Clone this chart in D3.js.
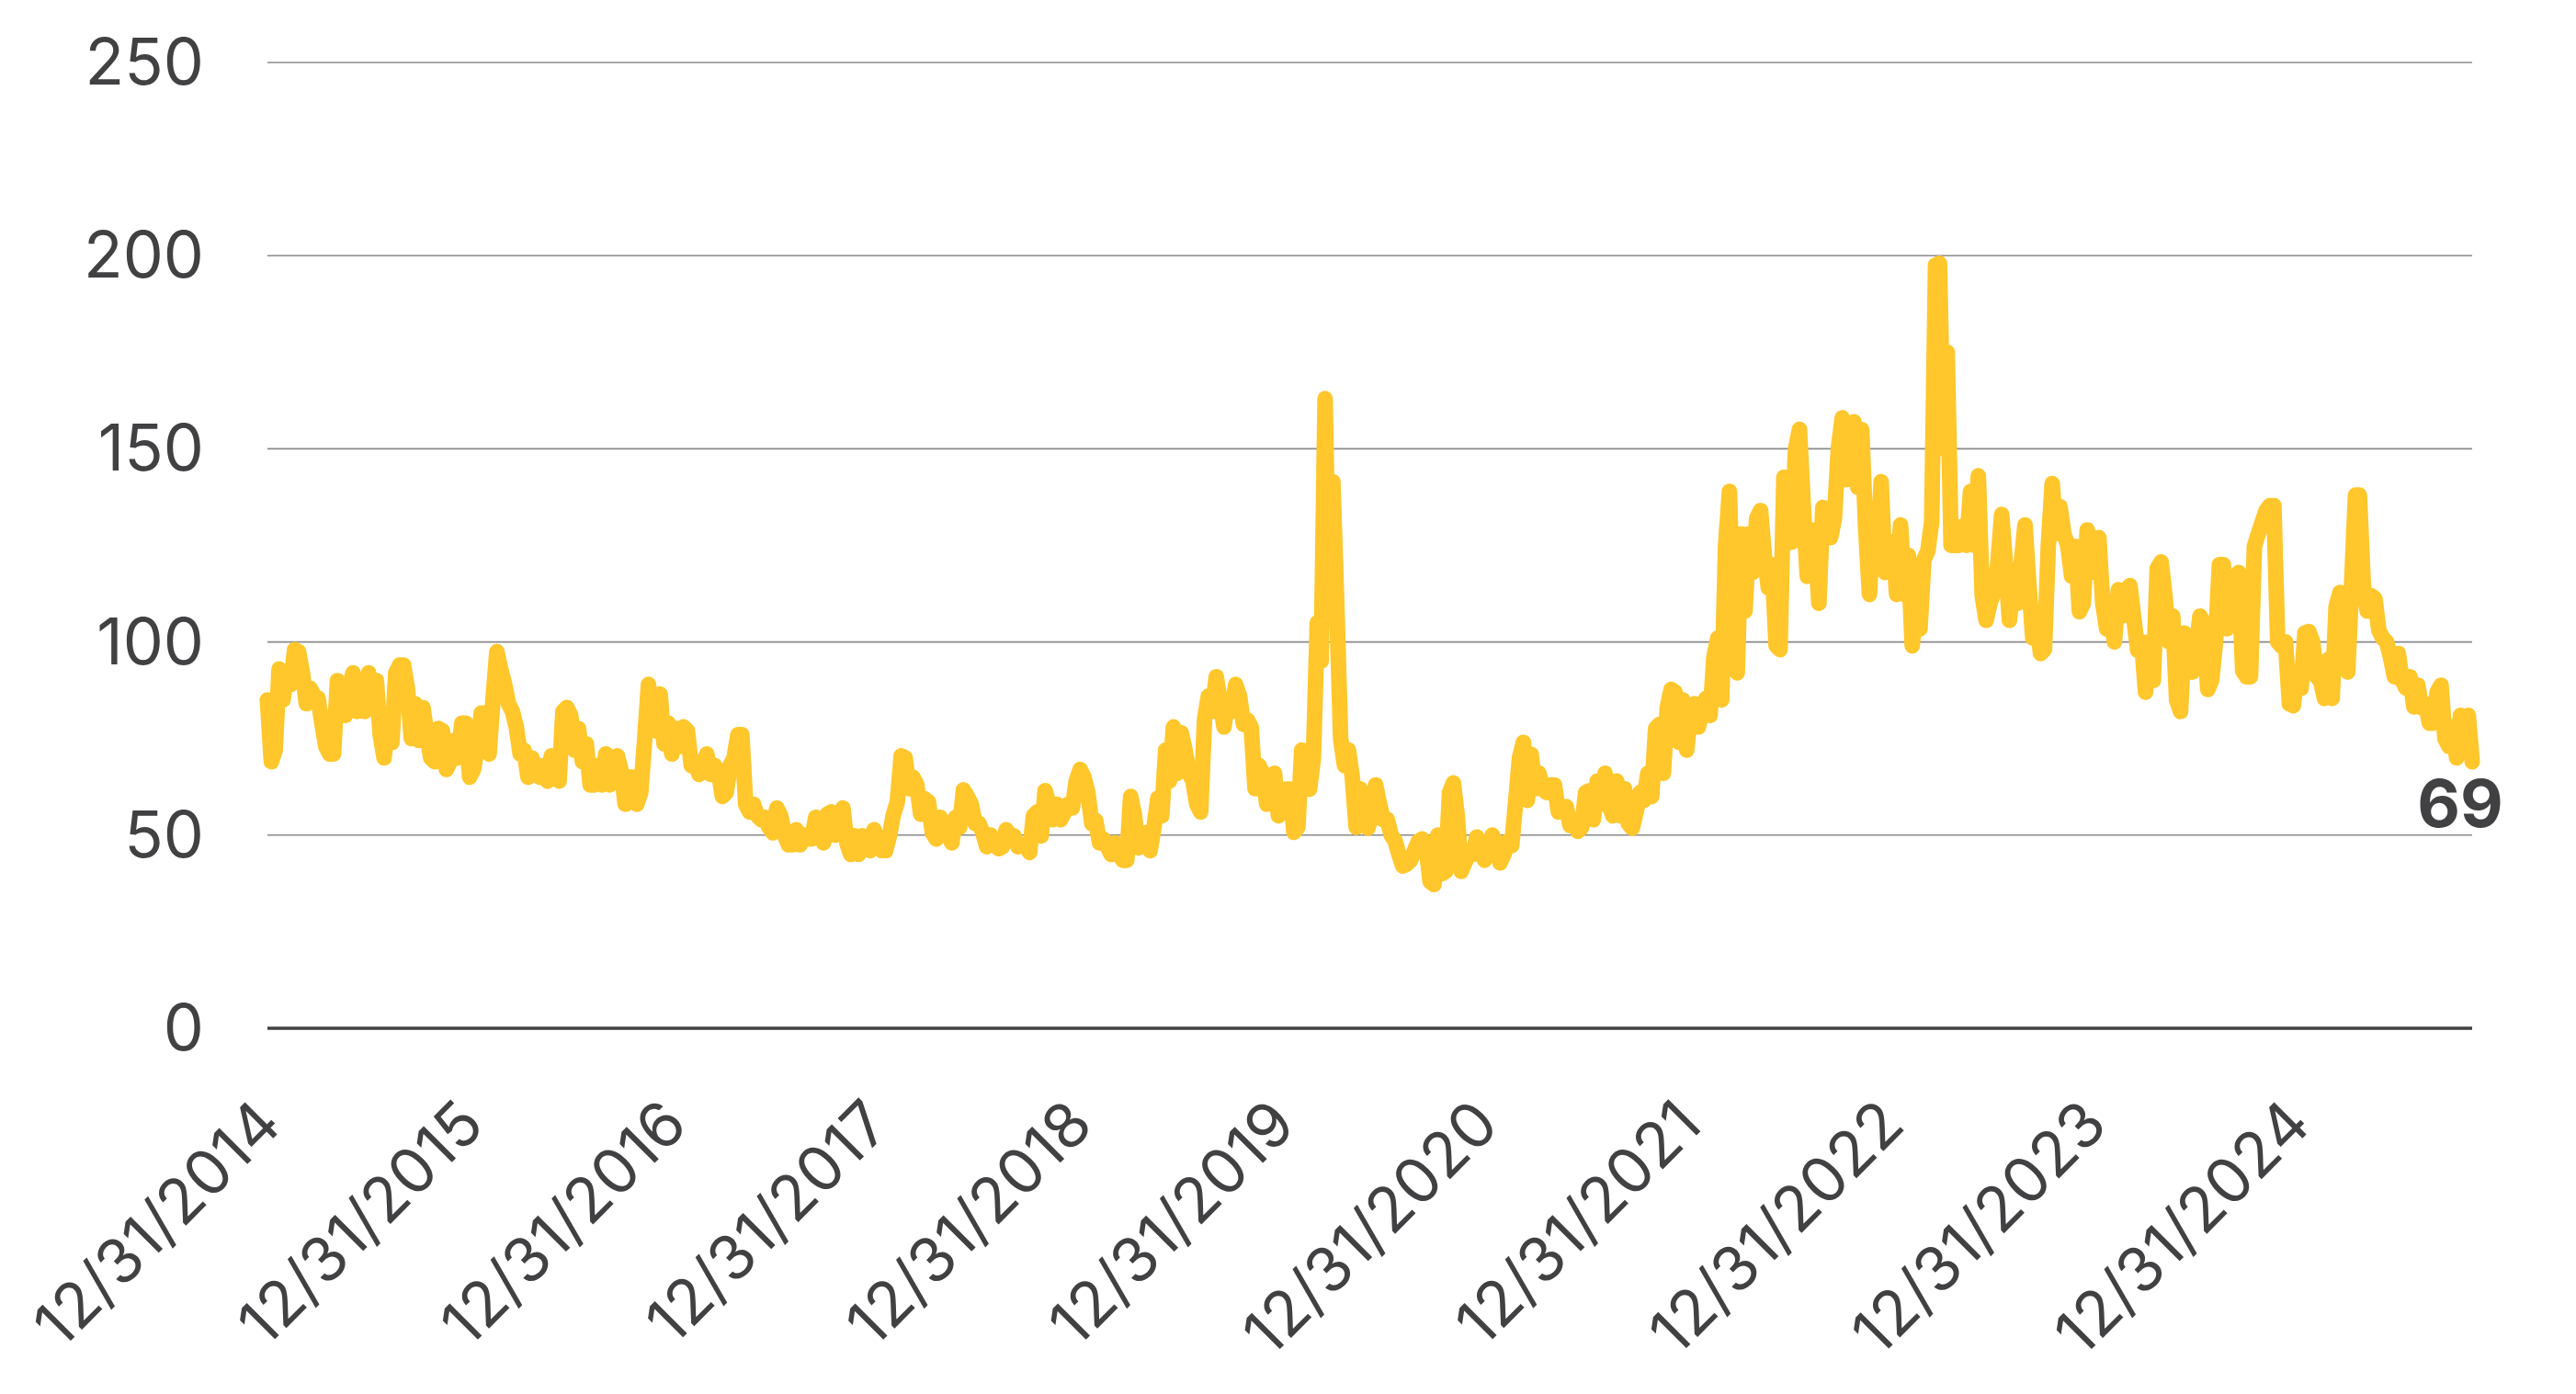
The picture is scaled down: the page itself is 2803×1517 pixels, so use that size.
<!DOCTYPE html>
<html>
<head>
<meta charset="utf-8">
<script src="https://cdn.jsdelivr.net/npm/d3@7"></script>
<style>
  html, body { margin: 0; padding: 0; background: #fff; }
  svg { display: block; }
</style>
</head>
<body>
<svg id="chart"></svg>
<script>
// Weekly readings, first point is 12/31/2014, one value every 7 days
const startDate = "2014-12-31";
const v2015 = [85, 69, 72, 93, 85, 92, 89, 98, 97.5, 92, 84, 88, 86, 85.5, 79, 73, 71, 71, 90, 86, 81, 88, 92, 82, 90, 82, 92, 85, 90, 76, 70, 79, 74, 92, 94, 94, 88, 75, 84, 74.5, 83, 76, 70, 69, 77.6, 77, 67, 69, 74.5, 70, 79, 79, 65];
const v2016 = [67, 73, 81.6, 81.6, 71, 85, 97.5, 93, 89, 84, 82, 78, 71, 72, 65, 70, 67, 65, 68, 64, 70.5, 66.5, 64, 82, 83, 81, 72, 77.6, 69, 73.6, 63, 63, 68, 63, 71, 63, 70, 70.5, 66.5, 58, 65, 65, 58, 61, 74.5, 89, 80, 77, 86.5, 73.6, 79, 71];
const v2017 = [77.6, 73, 78, 77, 68, 69, 65.7, 68, 71, 65.7, 68, 66.5, 60, 61, 68, 70, 76, 76, 58, 56, 58, 55, 54, 54.6, 52, 50.6, 57, 55, 50, 47.5, 47.5, 51.4, 47.5, 50, 49, 49, 54.6, 51, 48, 55.4, 56, 50, 53, 57, 48, 45, 49.8, 45, 49.8, 47.5, 46, 51.4];
const v2018 = [48, 46, 46, 50, 55.4, 58.6, 70.5, 70, 62, 65, 63, 55.4, 59.4, 58.6, 50.6, 49, 54.6, 53, 50, 48, 54.6, 52, 61.7, 60, 58, 53, 53, 50.6, 47, 50, 48, 46.5, 47, 51.4, 49.8, 49.8, 47, 47.5, 47.5, 45.5, 55, 56, 49.8, 61.5, 58, 54, 58, 54, 56, 58, 57, 64];
const v2019 = [67, 65, 61, 53, 53.8, 48, 49, 47, 45, 48, 45, 43.5, 43.5, 60, 55, 46.7, 47.5, 50.6, 46, 52, 59.6, 55, 72, 64, 78, 66, 76.5, 72, 66, 64, 58, 56, 80, 86, 82, 91, 85, 78, 85, 82, 89, 86, 78.7, 79.8, 78, 62, 68, 66, 58, 63, 66, 55];
const v2020 = [56, 61.9, 61.9, 50.7, 52, 72, 64, 61.9, 70, 105, 95, 163, 110, 141.5, 110, 75, 68, 72, 65, 52, 62, 57, 51.8, 55, 63, 58, 54, 54, 50, 48.5, 45, 42, 42.5, 43.5, 46, 48.4, 49, 47, 38, 37.2, 50, 40, 40.6, 61, 63.5, 55, 40.6, 43, 45, 45, 49.5, 47, 43.5];
const v2021 = [46, 50, 48, 42.8, 45, 48.4, 47.3, 58.5, 70, 74, 59, 70.9, 62, 66, 62, 61, 63, 63, 56, 57, 57.4, 52.5, 53, 51, 52, 61, 61.5, 54, 64, 58, 66, 58, 55, 64, 55, 62, 53, 51.8, 56, 61, 59, 66, 60, 77.6, 78.7, 66, 83, 87.7, 87, 74, 85, 72];
const v2022 = [82, 84, 78, 82, 85.4, 81, 96, 101, 85, 125, 139, 100, 92, 128, 108, 128, 118, 132, 134, 122, 114, 120, 99, 98, 142.6, 140, 125.8, 150, 155, 135, 117, 129, 126, 110, 134.8, 128, 127, 132, 150, 158, 142, 155, 157, 140, 155, 130, 112.3, 132, 119, 141.5, 118, 119];
const v2023 = [126, 112.3, 130.3, 112.3, 122.4, 99, 110, 103.4, 121.3, 123.5, 131, 197.5, 198, 150, 175, 125, 125, 125, 130, 125, 139, 125, 143, 112, 105.6, 110, 113, 120, 133, 120, 105.6, 115, 110, 120, 130.3, 115, 101, 106, 97, 98, 125, 141, 128, 135, 128, 125, 117, 124.7, 107.8, 110, 129, 125];
const v2024 = [118, 127, 110, 103.4, 108, 100, 113.5, 106.7, 113.5, 114.6, 106, 97.8, 100, 87, 100, 90, 119, 120.7, 112, 100, 106.7, 85, 82, 102.3, 100, 92.2, 98, 106.7, 105, 87.7, 90, 100, 120, 120, 103.4, 110, 117, 118, 92.5, 91, 91, 124.7, 128, 131, 134, 135.3, 135.3, 100, 98.9, 100, 84, 83.5];
const v2025 = [92, 88, 102.3, 102.7, 100, 91, 90, 85.4, 95.5, 85.4, 109, 112.8, 105, 92.2, 115, 138, 138, 115, 108, 112, 111.2, 103, 101, 100, 96, 91, 97, 90, 88, 91, 83.2, 88.8, 83, 84, 79, 79, 87, 88.8, 75, 73, 78, 70, 81, 72, 81, 69];

const yTicks = [0, 50, 100, 150, 200, 250];
const xTickLabels = ["12/31/2014", "12/31/2015", "12/31/2016", "12/31/2017", "12/31/2018", "12/31/2019",
                     "12/31/2020", "12/31/2021", "12/31/2022", "12/31/2023", "12/31/2024"];
const lastLabel = "69";

const width = 2803, height = 1517;
const margin = { top: 68, right: 113, bottom: 398, left: 291 };
const textColor = "#414042";
const font = "Inter, 'Liberation Sans', Arial, sans-serif";

const parse = d3.utcParse("%Y-%m-%d");
const parseTick = d3.utcParse("%m/%d/%Y");
const t0 = parse(startDate);

const values = [].concat(v2015, v2016, v2017, v2018, v2019, v2020, v2021, v2022, v2023, v2024, v2025);
const data = values.map((v, i) => ({ date: d3.utcDay.offset(t0, i * 7), value: v }));

const svg = d3.select("#chart")
    .attr("width", width)
    .attr("height", height);

const x = d3.scaleUtc()
    .domain(d3.extent(data, d => d.date))
    .range([margin.left, width - margin.right]);

const y = d3.scaleLinear()
    .domain([0, 250])
    .range([height - margin.bottom, margin.top]);

// gridlines
svg.append("g")
    .selectAll("line")
    .data(yTicks.filter(d => d > 0))
    .join("line")
    .attr("x1", margin.left)
    .attr("x2", width - margin.right)
    .attr("y1", d => y(d))
    .attr("y2", d => y(d))
    .attr("stroke", "#8a8a8a")
    .attr("stroke-width", 1.6);

// y labels
svg.append("g")
    .attr("font-family", font)
    .attr("font-size", 70)
    .attr("fill", textColor)
    .attr("text-anchor", "end")
    .selectAll("text")
    .data(yTicks)
    .join("text")
    .attr("x", margin.left - 69)
    .attr("y", d => y(d) + 24)
    .text(d => d);

// the series
const line = d3.line()
    .x(d => x(d.date))
    .y(d => y(d.value));

svg.append("path")
    .datum(data)
    .attr("fill", "none")
    .attr("stroke", "#FFC72C")
    .attr("stroke-width", 17)
    .attr("stroke-linejoin", "round")
    .attr("stroke-linecap", "round")
    .attr("d", line);

// baseline
svg.append("line")
    .attr("x1", margin.left)
    .attr("x2", width - margin.right)
    .attr("y1", y(0))
    .attr("y2", y(0))
    .attr("stroke", textColor)
    .attr("stroke-width", 3.5);

// x labels, rotated
svg.append("g")
    .attr("font-family", font)
    .attr("font-size", 68)
    .attr("fill", textColor)
    .attr("text-anchor", "end")
    .selectAll("text")
    .data(xTickLabels)
    .join("text")
    .attr("transform", d => `translate(${x(parseTick(d)) + 18},${y(0) + 108}) rotate(-45)`)
    .text(d => d);

// end value label
const last = data[data.length - 1];
svg.append("text")
    .attr("x", x(last.date) - 13)
    .attr("y", y(last.value) + 71)
    .attr("font-family", font)
    .attr("font-size", 72)
    .attr("font-weight", "bold")
    .attr("fill", textColor)
    .attr("text-anchor", "middle")
    .text(lastLabel);
</script>
</body>
</html>
